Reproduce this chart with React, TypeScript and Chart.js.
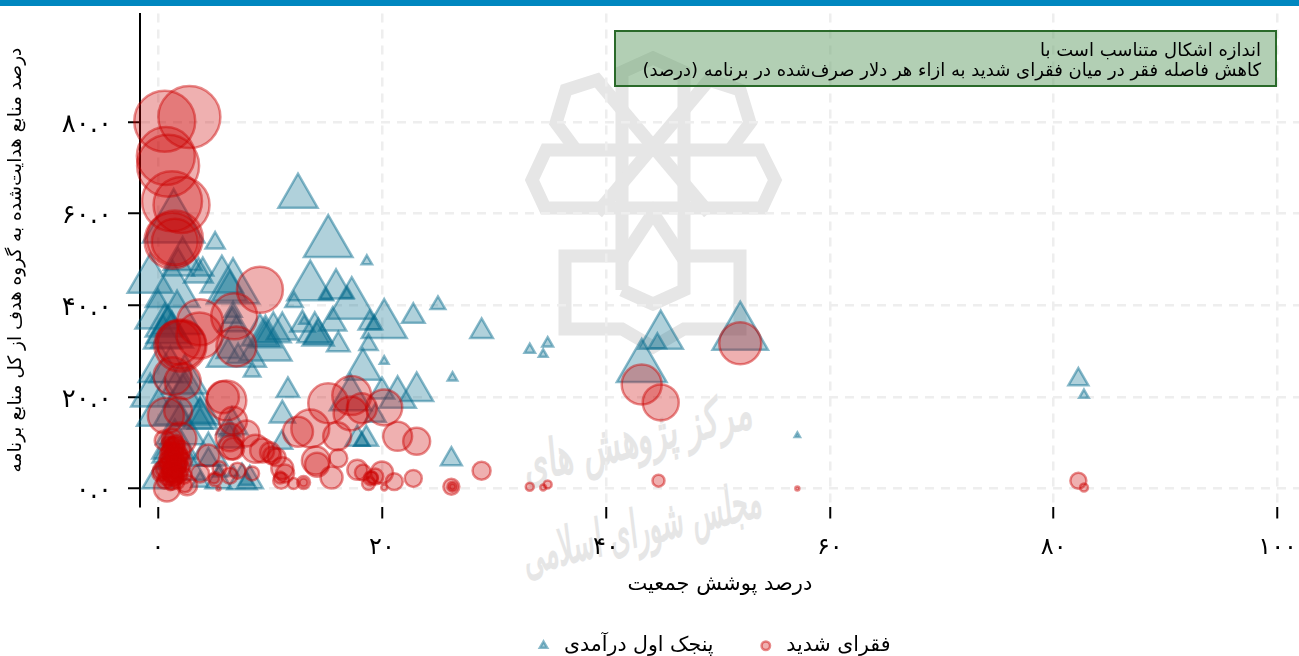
import React, { useEffect, useRef } from "react";
import { Chart, registerables } from "chart.js";

Chart.register(...registerables);

const quintileCoverage = [12.5,15.2,5.1,18.65,-0.7,1.4,2.2,1.8,3.6,4.0,5.7,6.7,6.4,1.3,13.6,15.9,17.3,12.15,15.0,16.9,20.2,22.8,25.0,18.9,19.3,15.6,12.9,13.05,14.0,14.3,14.2,16.1,18.8,20.2,18.3,23.1,21.4,20.0,17.2,19.4,17.8,18.6,18.2,11.6,11.1,11.05,10.3,11.1,9.6,9.6,8.4,9.1,28.9,26.3,26.2,33.2,34.8,34.4,43.2,44.9,44.6,52.0,57.1,82.2,82.7,0,0.6,1.25,0.9,1.7,0.2,-0.7,0.6,1.1,2.4,2.2,2.6,3.75,3.75,3.75,0,4.5,4.5,5.4,7.5,8.2,3.75,6.6,6.4,6.4,5.5,6.7,7.9,6.7,6.6,6.7,6.25,7.15,7.0,0.45,0.6,1.1,2.0,1.5,2.9];
const quintileShare = [63.8,53.6,53.6,49.6,45.6,57.6,50.1,48.5,46.8,47.8,45.5,43.7,43.2,43.0,44.0,43.6,40.1,40.7,42.1,42.4,35.7,37.6,40.1,36.1,35.8,36.2,35.8,36.6,34.1,33.2,33.2,31.4,31.4,27.8,26.0,21.2,19.9,21.2,19.7,15.9,10.8,10.8,10.3,21.4,16.0,10.0,34.1,34.5,31.2,32.8,25.5,33.5,34.3,24.2,6.4,30.3,31.7,29.3,26.4,33.3,31.7,33.8,11.6,23.8,20.4,37.8,35.6,33.4,34.5,36.9,26.0,20.3,17.2,25.8,23.6,20.3,18.1,15.3,16.2,14.6,2.0,7.4,6.3,1.7,1.7,1.7,1.5,13.8,10.7,12.7,3.5,3.5,1.7,36.2,37.3,38.6,29.9,28.8,30.3,33.0,7.2,6.1,12.7,9.4,3.9];
const quintileImpact = [511,784,121,36,676,1267,484,324,272,144,600,900,400,961,702,380,767,100,49,56,676,169,72,161,86,243,196,30,400,324,210,169,110,25,428,361,441,196,576,144,182,182,81,169,210,144,400,324,900,324,90,441,169,30,144,36,38,25,824,650,100,1024,9,132,30,676,484,576,625,841,625,484,1024,576,676,484,1444,400,289,196,324,484,144,225,289,225,100,324,256,144,64,49,64,289,100,100,169,169,1156,484,196,256,784,676,324];

const povertyCoverage = [0.6,2.8,0.9,0.7,1.25,2.1,1.5,1.3,1.5,9.1,3.75,3.7,2.1,2.0,1.8,6.8,7.0,1.3,2.2,0.7,1.8,5.8,6.1,6.7,6.4,7.9,6.7,6.5,8.7,10.0,10.6,9.3,10.2,11.1,11.35,11.0,10.9,4.5,2.0,0.6,0.8,2.6,2.4,3.75,5.1,5.0,5.4,5.5,7.1,6.4,8.4,15.2,17.3,17.2,18.2,20.2,13.6,12.5,16.0,21.4,23.1,14.1,14.2,16.1,15.5,17.8,18.3,20.0,19.4,19.1,18.8,19.0,21.1,20.2,22.8,13.0,13.0,12.1,26.2,26.3,26.3,28.9,33.2,34.8,34.4,43.2,44.9,52.0,44.7,57.1,82.2,82.7,1.25,1.6,1.1,2.0,1.25,1.8,0.9,2.1,1.4,0.7,2.0,1.25,1.6,0.9,0.35,0.6,1.25,0.2,2.3,1.8,1.1,1.5,1.1,1.6,1.25,0.9,1.4,1.6,1.2,1.8,1.0,1.5,1.3,1.9,1.1,1.7,1.4,1.6];
const povertyShare = [80.2,81.1,70.5,72.6,62.7,61.9,54.6,54.1,53.9,43.4,36.3,33.4,31.4,31.2,31.9,37.6,31.0,24.5,23.4,15.9,16.9,19.9,19.2,14.8,11.2,12.0,8.7,9.0,8.7,7.9,6.8,8.3,7.2,4.4,3.3,1.7,2.4,7.2,10.9,10.5,0,0.7,0.7,3.3,2.0,2.2,0,4.4,3.9,2.8,3.3,18.6,20.3,16.4,17.5,17.7,13.1,12.4,11.4,11.4,10.3,6.1,5.2,6.6,2.4,4.1,3.5,3.5,2.6,2.4,1.1,2.2,1.5,0.2,2.2,1.3,1.3,1.1,0.4,0.4,0.4,3.9,0.4,0.9,0.2,22.7,18.8,31.7,1.7,0,1.7,0.2,10.9,9.4,8.3,8.3,7.2,6.6,6.1,5.7,5.0,4.4,4.4,3.5,2.6,2.6,3.9,1.7,1.7,3.3,2.8,1.3,0.7,3.9,5.0,7.9,9.6,10.0,9.0,7.5,6.5,5.5,5.0,4.5,3.5,3.0,8.0,6.8,2.5,10.0];
const povertyImpact = [930,961,961,841,900,784,784,784,529,529,529,529,576,676,484,529,400,361,324,324,196,256,400,196,196,169,121,144,196,100,81,144,81,121,81,64,36,121,256,100,169,100,49,81,49,25,4,49,64,64,49,400,380,289,225,324,361,225,196,210,182,196,144,81,121,100,64,121,64,36,42,49,72,9,72,42,16,30,64,25,9,81,16,16,9,400,324,441,36,4,64,16,100,81,64,100,144,121,81,100,144,100,81,100,64,81,81,64,81,64,64,36,25,49,49,49,49,36,100,121,100,81,100,121,100,64,81,100,81,64];

const xTicks = [0, 20, 40, 60, 80, 100];
const xTickLabels = ["۰", "۲۰", "۴۰", "۶۰", "۸۰", "۱۰۰"];
const yTicks = [0, 20, 40, 60, 80];
const yTickLabels = ["۰.۰", "۲۰.۰", "۴۰.۰", "۶۰.۰", "۸۰.۰"];

const quintileLabel = "پنجک اول درآمدی";
const povertyLabel = "فقرای شدید";
const xTitle = "درصد پوشش جمعیت";
const yTitle = "درصد منابع هدایت‌شده به گروه هدف از کل منابع برنامه";
const noteLines = ["اندازه اشکال متناسب است با", "کاهش فاصله فقر در میان فقرای شدید به ازاء هر دلار صرف‌شده در برنامه (درصد)"];
const watermarkLines = ["مرکز پژوهش های", "مجلس شورای اسلامی"];

const FONT = "'DejaVu Sans'";

const toPoints = (xs: number[], ys: number[]) => xs.map((x, i) => ({ x, y: ys[i] }));

function Watermark() {
  const common = { fill: "none", stroke: "#e6e6e6", strokeWidth: 13, strokeLinejoin: "miter" as const };
  return (
    <svg width={1299} height={656} style={{ position: "absolute", left: 0, top: 0 }}>
      <polyline {...common} points="622,290 622,72 653,58 684,72 684,290 653,304 622,290" />
      <polyline {...common} points="597,213 709,80 740,90 750,123 730,150" />
      <polyline {...common} points="709,213 597,80 566,90 556,123 576,150" />
      <polygon {...common} points="546,150 760,150 775,180 762,208 545,208 532,180" />
      <polyline {...common} points="622,260 653,213 684,260" />
      <polyline {...common} points="622,256 565,256 565,329 622,329 653,347 684,329 740,329 740,256 684,256" />
      <text x={640} y={455} textAnchor="middle" transform="rotate(-14 640 455)" fontFamily="'DejaVu Serif'" fontStyle="italic" fontWeight="bold" fontSize={52} fill="#e6e6e6" textLength={235} lengthAdjust="spacingAndGlyphs">{watermarkLines[0]}</text>
      <text x={645} y={545} textAnchor="middle" transform="rotate(-14 645 545)" fontFamily="'DejaVu Serif'" fontStyle="italic" fontWeight="bold" fontSize={52} fill="#e6e6e6" textLength={245} lengthAdjust="spacingAndGlyphs">{watermarkLines[1]}</text>
    </svg>
  );
}

const legendShift = {
  id: "legendShift",
  afterLayout(chart: any) {
    chart.legend.left -= 8;
    chart.legend.right -= 8;
  },
};

export default function App() {
  const ref = useRef<HTMLCanvasElement>(null);
  useEffect(() => {
    document.body.style.margin = "0";
    const chart = new Chart(ref.current!, {
      type: "scatter",
      plugins: [legendShift],
      data: {
        datasets: [
          {
            label: quintileLabel,
            data: toPoints(quintileCoverage, quintileShare),
            pointStyle: "triangle",
            pointRadius: quintileImpact.map((v) => Math.sqrt(v)),
            backgroundColor: "rgba(0,105,140,0.31)",
            borderColor: "rgba(0,105,140,0.46)",
            borderWidth: 2.5,
            order: 2,
            clip: false,
          },
          {
            label: povertyLabel,
            data: toPoints(povertyCoverage, povertyShare),
            pointStyle: "circle",
            pointRadius: povertyImpact.map((v) => Math.sqrt(v)),
            backgroundColor: "rgba(204,0,0,0.31)",
            borderColor: "rgba(204,0,0,0.45)",
            borderWidth: 2.5,
            order: 1,
            clip: false,
          },
        ] as any,
      },
      options: {
        responsive: false,
        animation: false,
        layout: { autoPadding: false, padding: { top: 13, left: 0, right: 0, bottom: 0 } },
        plugins: {
          tooltip: { enabled: false },
          legend: {
            position: "bottom",
            fullSize: false,
            labels: {
              usePointStyle: true,
              boxHeight: 6,
              padding: 42,
              color: "#000",
              font: { family: FONT, size: 20.5 },
              sort: (a: any, b: any) => a.datasetIndex - b.datasetIndex,
            },
          },
        },
        scales: {
          x: {
            type: "linear",
            min: -1.61,
            max: 101.97,
            afterBuildTicks: (s: any) => { s.ticks = xTicks.map((value) => ({ value })); },
            afterFit: (s: any) => { s.height = 87; },
            ticks: {
              padding: 15,
              maxRotation: 0,
              color: "#000",
              font: { family: FONT, size: 24 },
              callback: (v: any) => xTickLabels[xTicks.indexOf(Number(v))],
            },
            grid: { color: "#eeeeee", lineWidth: 2.5, tickColor: "#000", tickLength: 12, tickWidth: 2, tickBorderDash: [] },
            border: { display: false, dash: [9, 7] },
            title: { display: true, text: xTitle, color: "#000", font: { family: FONT, size: 21 }, padding: { top: 8, bottom: -4 } },
          },
          y: {
            type: "linear",
            min: -3.93,
            max: 103.7,
            afterBuildTicks: (s: any) => { s.ticks = yTicks.map((value) => ({ value })); },
            afterFit: (s: any) => { s.width = 140; },
            ticks: {
              padding: 16,
              labelOffset: 3,
              color: "#000",
              font: { family: FONT, size: 26 },
              callback: (v: any) => yTickLabels[yTicks.indexOf(Number(v))],
            },
            grid: { color: "#eeeeee", lineWidth: 2.5, tickColor: "#000", tickLength: 12, tickWidth: 2, tickBorderDash: [] },
            border: { display: true, color: "#000", width: 2, dash: [9, 7] },
            title: { display: true, text: yTitle, color: "#000", font: { family: FONT, size: 18.5 }, padding: { top: 5, bottom: 0 } },
          },
        },
      },
    });
    return () => chart.destroy();
  }, []);
  return (
    <div style={{ position: "absolute", left: 0, top: 0, width: 1299, height: 656, overflow: "hidden", background: "#fff" }}>
      <Watermark />
      <canvas ref={ref} width={1312} height={684} style={{ position: "absolute", left: 0, top: -18, display: "block" }} />
      <div style={{ position: "absolute", left: 0, top: 0, width: 1299, height: 6, background: "#0087bf" }} />
      <div
        dir="rtl"
        style={{
          position: "absolute", left: 614, top: 30, width: 663, height: 57, boxSizing: "border-box",
          background: "rgba(102,160,106,0.5)", border: "2px solid #2a6a2a", padding: "8px 14px 0 0",
          fontFamily: FONT, fontSize: 18, lineHeight: "20px", color: "#000", whiteSpace: "nowrap",
        }}
      >
        <div>{noteLines[0]}</div>
        <div>{noteLines[1]}</div>
      </div>
    </div>
  );
}
